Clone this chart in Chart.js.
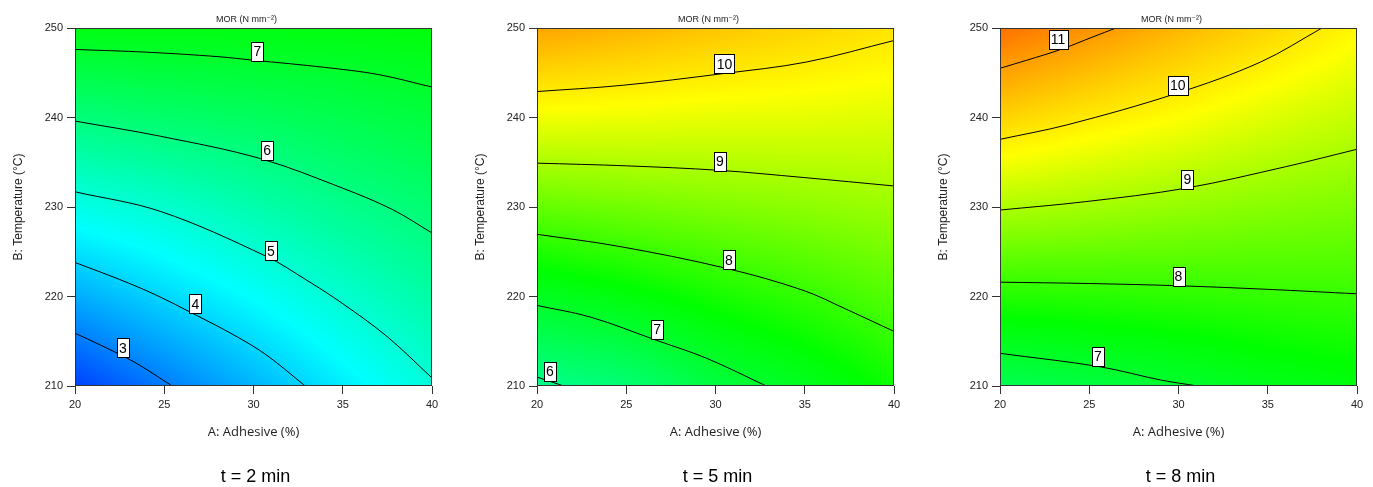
<!DOCTYPE html>
<html lang="en">
<head>
<meta charset="UTF-8">
<title>MOR contour plots</title>
<script src="https://cdn.jsdelivr.net/npm/chart.js@4.4.1/dist/chart.umd.min.js"></script>
<style>
  html, body { margin: 0; padding: 0; background: #fff; overflow: hidden; }
  .panel { position: absolute; top: 0; width: 448px; height: 487px; }
</style>
</head>
<body>
<div class="panel" style="left:0px"><canvas id="t2"></canvas></div>
<div class="panel" style="left:462px"><canvas id="t5"></canvas></div>
<div class="panel" style="left:925px"><canvas id="t8"></canvas></div>

<script>
// factor levels of the response surface grid
const adhesive = [20, 25, 30, 35, 40];
const temperature = [210, 220, 230, 240, 250];

// MOR (N/mm2) on the grid, one row per temperature
const t2Grid = [
  [2.25, 2.95, 3.62, 4.29, 4.95],
  [3.52, 4.03, 4.53, 5.06, 5.56],
  [4.78, 5.08, 5.46, 5.84, 6.18],
  [6.05, 6.25, 6.40, 6.59, 6.79],
  [7.30, 7.30, 7.32, 7.33, 7.40]
];
const t5Grid = [
  [5.87, 6.15, 6.75, 7.15, 7.62],
  [7.12, 7.37, 7.68, 7.94, 8.24],
  [8.38, 8.50, 8.62, 8.74, 8.86],
  [9.64, 9.60, 9.55, 9.52, 9.47],
  [10.9, 10.7, 10.49, 10.29, 10.09]
];
const t8Grid = [
  [6.54, 6.75, 6.96, 7.19, 7.36],
  [7.80, 7.84, 7.89, 7.94, 7.98],
  [9.04, 8.93, 8.81, 8.69, 8.60],
  [10.31, 10.01, 9.75, 9.47, 9.22],
  [11.57, 11.13, 10.68, 10.28, 9.84]
];

// contour lines: [level, [[adhesive, temperature], ...]]
const t2Lines = [
  [3, [[20, 215.9], [21.4, 214.6], [23.3, 212.7], [25.45, 210]]],
  [4, [[20, 223.8], [22.5, 221.9], [24.5, 220.2], [26.8, 217.9], [28.9, 215.7], [30.7, 213.5], [32.9, 210]]],
  [5, [[20, 231.7], [24.8, 229.5], [30.7, 224.5], [33, 221.8], [35, 219.2], [37.5, 215.5], [40, 210.9]]],
  [6, [[20, 239.6], [24.8, 237.9], [30.4, 235.4], [35, 232.1], [37.8, 229.7], [40, 227.1]]],
  [7, [[20, 247.6], [24, 247.3], [28, 246.8], [30, 246.4], [34, 245.6], [37, 244.8], [40, 243.4]]]
];
const t5Lines = [
  [6, [[20, 211.0], [21.5, 210]]],
  [7, [[20, 219], [23, 217.7], [26.7, 215.1], [29.5, 213.1], [32.85, 210]]],
  [8, [[20, 226.95], [24.6, 225.6], [30.6, 223.15], [34.9, 220.7], [37.3, 218.6], [40, 216.1]]],
  [9, [[20, 234.9], [25, 234.6], [30.2, 234.1], [34.9, 233.3], [40, 232.35]]],
  [10, [[20, 242.9], [24.8, 243.6], [30.4, 244.9], [35.1, 246.2], [40, 248.6]]]
];
const t8Lines = [
  [7, [[20, 213.65], [25.6, 212.15], [29, 210.67], [31.07, 210]]],
  [8, [[20, 221.6], [25, 221.45], [30, 221.2], [35, 220.8], [40, 220.3]]],
  [9, [[20, 229.66], [24.8, 230.6], [30.4, 232.1], [36, 234.5], [40, 236.45]]],
  [10, [[20, 237.56], [23.8, 239.2], [29.9, 242.7], [34.6, 246.2], [38.04, 250]]],
  [11, [[20, 245.5], [21.5, 246.4], [23.4, 247.6], [25.2, 249.0], [26.5, 250]]]
];

// where each contour's value tag sits: [level, adhesive, temperature]
const t2Labels = [[3, 22.69, 214.25], [4, 26.75, 219.2], [5, 30.98, 225.1], [6, 30.76, 236.3], [7, 30.22, 247.4]];
const t5Labels = [[6, 20.72, 211.65], [7, 26.73, 216.3], [8, 30.75, 224.1], [9, 30.24, 235.1], [10, 30.5, 246.0]];
const t8Labels = [[7, 25.48, 213.3], [8, 30.0, 222.26], [9, 30.5, 233.07], [10, 29.96, 243.6], [11, 23.25, 248.7]];

const captions = ['t = 2 min', 't = 5 min', 't = 8 min'];

// blue -> cyan -> green -> yellow -> red
const colourStops = [
  [1.5, [0, 0, 255]],
  [4.5, [0, 255, 255]],
  [7.5, [0, 255, 0]],
  [9.75, [255, 255, 0]],
  [13, [255, 0, 0]]
];

function colourFor(v) {
  if (v <= colourStops[0][0]) return colourStops[0][1];
  for (let i = 1; i < colourStops.length; i++) {
    const [v1, c1] = colourStops[i];
    if (v <= v1) {
      const [v0, c0] = colourStops[i - 1];
      const f = (v - v0) / (v1 - v0);
      return [0, 1, 2].map(k => c0[k] + (c1[k] - c0[k]) * f);
    }
  }
  return colourStops[colourStops.length - 1][1];
}

function catmull(p0, p1, p2, p3, t) {
  return 0.5 * ((2 * p1) + (-p0 + p2) * t + (2 * p0 - 5 * p1 + 4 * p2 - p3) * t * t + (-p0 + 3 * p1 - 3 * p2 + p3) * t * t * t);
}

// smooth lookup in the grid
function sampleGrid(grid, a, b) {
  const n = adhesive.length - 1, m = temperature.length - 1;
  const u = Math.min(Math.max((a - adhesive[0]) / (adhesive[1] - adhesive[0]), 0), n);
  const w = Math.min(Math.max((b - temperature[0]) / (temperature[1] - temperature[0]), 0), m);
  const i = Math.min(Math.floor(u), n - 1), j = Math.min(Math.floor(w), m - 1);
  const get = (r, c) => {
    const rr = Math.min(Math.max(r, 0), m), cc = Math.min(Math.max(c, 0), n);
    // linear extension past the edges
    if (r < 0) return 2 * grid[0][cc] - grid[1][cc];
    if (r > m) return 2 * grid[m][cc] - grid[m - 1][cc];
    if (c < 0) return 2 * grid[rr][0] - grid[rr][1];
    if (c > n) return 2 * grid[rr][n] - grid[rr][n - 1];
    return grid[r][c];
  };
  const rows = [];
  for (let r = j - 1; r <= j + 2; r++) {
    rows.push(catmull(get(r, i - 1), get(r, i), get(r, i + 1), get(r, i + 2), u - i));
  }
  return catmull(rows[0], rows[1], rows[2], rows[3], w - j);
}

const surface = {
  id: 'surface',
  beforeDatasetsDraw(chart, args, opts) {
    const { ctx, chartArea: area, scales: { x, y } } = chart;
    const left = Math.round(area.left), top = Math.round(area.top);
    const w = Math.round(area.right) - left, h = Math.round(area.bottom) - top;
    const img = ctx.createImageData(w, h);
    for (let j = 0; j < h; j++) {
      const tv = y.getValueForPixel(top + j + 0.5);
      for (let i = 0; i < w; i++) {
        const av = x.getValueForPixel(left + i + 0.5);
        const c = colourFor(sampleGrid(opts.grid, av, tv));
        const k = (j * w + i) * 4;
        img.data[k] = c[0];
        img.data[k + 1] = c[1];
        img.data[k + 2] = c[2];
        img.data[k + 3] = 255;
      }
    }
    ctx.putImageData(img, left, top);
  }
};

const decorations = {
  id: 'decorations',
  afterDatasetsDraw(chart, args, opts) {
    const { ctx, chartArea: area, scales: { x, y } } = chart;
    ctx.save();
    // level tags
    ctx.font = '14px "Liberation Sans", Arial, sans-serif';
    ctx.textAlign = 'center';
    ctx.textBaseline = 'middle';
    opts.labels.forEach(([level, a, b]) => {
      const px = x.getPixelForValue(a), py = y.getPixelForValue(b);
      const txt = String(level);
      const bw = Math.round(ctx.measureText(txt).width + 4), bh = 19;
      const bx = Math.round(px - bw / 2) + 0.5, by = Math.round(py - bh / 2) + 0.5;
      ctx.fillStyle = '#fff';
      ctx.fillRect(bx, by, bw, bh);
      ctx.strokeStyle = '#000';
      ctx.lineWidth = 1;
      ctx.strokeRect(bx, by, bw, bh);
      ctx.fillStyle = '#000';
      ctx.fillText(txt, px, py + 1);
    });
    // frame
    ctx.strokeStyle = '#333';
    ctx.lineWidth = 1;
    ctx.strokeRect(Math.round(area.left) + 0.5, Math.round(area.top) + 0.5,
      Math.round(area.right - area.left) - 1, Math.round(area.bottom - area.top) - 1);
    ctx.restore();
  },
  afterDraw(chart, args, opts) {
    const { ctx, chartArea: area } = chart;
    const cx = (area.left + area.right) / 2;
    ctx.save();
    ctx.fillStyle = '#222';
    ctx.textAlign = 'center';
    ctx.textBaseline = 'middle';
    ctx.font = '9px "Liberation Sans", "DejaVu Sans", Arial, sans-serif';
    ctx.fillText('MOR (N mm\u207B\u00B2)', cx - 7, 19.5);
    ctx.fillStyle = '#000';
    ctx.font = '18px "Liberation Sans", Arial, sans-serif';
    ctx.fillText(opts.caption, cx + 2, 477);
    ctx.restore();
  }
};

function drawPanel(id, grid, lines, labels, caption) {
  new Chart(document.getElementById(id), {
    type: 'scatter',
    data: {
      datasets: lines.map(([level, pts]) => ({
        label: String(level),
        data: pts.map(([a, b]) => ({ x: a, y: b })),
        showLine: true,
        borderColor: '#000',
        borderWidth: 1,
        pointRadius: 0,
        tension: 0.35
      }))
    },
    options: {
      responsive: true,
      maintainAspectRatio: false,
      animation: false,
      events: [],
      layout: { padding: { top: 28, right: 16, bottom: 41, left: 0 } },
      plugins: {
        legend: { display: false },
        tooltip: { enabled: false },
        surface: { grid: grid },
        decorations: { labels: labels, caption: caption }
      },
      scales: {
        x: {
          type: 'linear',
          min: 20, max: 40,
          afterFit: s => { s.height = 60; },
          ticks: { stepSize: 5, padding: 4, color: '#222', font: { family: '"Liberation Sans", Arial', size: 11 } },
          grid: { drawOnChartArea: false, drawTicks: true, tickLength: 8, color: '#333' },
          border: { display: false },
          title: {
            display: true, text: 'A: Adhesive (%)', color: '#222',
            font: { family: '"Open Sans", sans-serif', size: 13 },
            padding: { top: 0, bottom: 6 }
          }
        },
        y: {
          type: 'linear',
          min: 210, max: 250,
          afterFit: s => { s.width = 75; },
          ticks: { stepSize: 10, padding: 4, color: '#222', font: { family: '"Liberation Sans", Arial', size: 11 } },
          grid: { drawOnChartArea: false, drawTicks: true, tickLength: 8, color: '#333' },
          border: { display: false },
          title: {
            display: true, text: 'B: Temperature (°C)', color: '#222',
            font: { family: '"Liberation Sans", Arial', size: 12 },
            padding: { top: 11, bottom: 0 }
          }
        }
      }
    },
    plugins: [surface, decorations]
  });
}

drawPanel('t2', t2Grid, t2Lines, t2Labels, captions[0]);
drawPanel('t5', t5Grid, t5Lines, t5Labels, captions[1]);
drawPanel('t8', t8Grid, t8Lines, t8Labels, captions[2]);
</script>
</body>
</html>
